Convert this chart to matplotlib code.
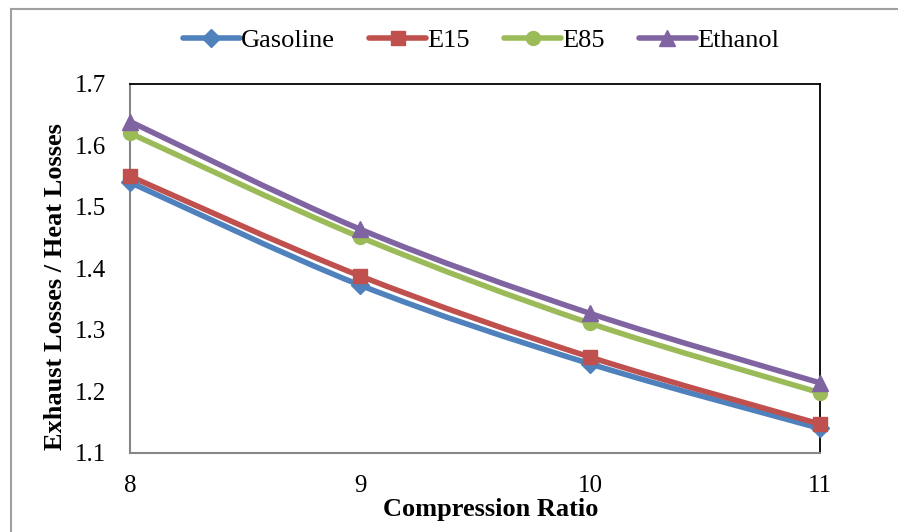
import matplotlib
matplotlib.use("Agg")
import matplotlib.pyplot as plt
from matplotlib.path import Path
from matplotlib.patches import PathPatch, Rectangle
from matplotlib.lines import Line2D

plt.rcParams["font.family"] = ["Liberation Serif", "DejaVu Serif"]

# data
compression_ratio = [8, 9, 10, 11]
gasoline = [1.540, 1.373, 1.245, 1.140]
e15 = [1.550, 1.388, 1.256, 1.147]
e85 = [1.620, 1.451, 1.311, 1.198]
ethanol = [1.639, 1.464, 1.327, 1.214]

series = [
    ("Gasoline", gasoline, "#4F81BD", "D", 9),
    ("E15", e15, "#C0504D", "s", 10),
    ("E85", e85, "#9BBB59", "o", 10),
    ("Ethanol", ethanol, "#8064A2", "^", 11),
]


def smooth_path(xs, ys):
    # Excel-like smoothed line: cubic bezier through every point
    pts = list(zip(xs, ys))
    n = len(pts)
    verts = [pts[0]]
    codes = [Path.MOVETO]
    for i in range(n - 1):
        p0 = pts[i - 1] if i > 0 else pts[i]
        p1 = pts[i]
        p2 = pts[i + 1]
        p3 = pts[i + 2] if i + 2 < n else pts[i + 1]
        c1 = (p1[0] + (p2[0] - p0[0]) / 6, p1[1] + (p2[1] - p0[1]) / 6)
        c2 = (p2[0] - (p3[0] - p1[0]) / 6, p2[1] - (p3[1] - p1[1]) / 6)
        verts += [c1, c2, p2]
        codes += [Path.CURVE4] * 3
    return Path(verts, codes)


fig = plt.figure(figsize=(8.98, 5.32), dpi=100)
ax = fig.add_axes([130 / 898, 1 - 453 / 532, 690 / 898, 369 / 532])

# outer chart-area border
fig.patches.append(Rectangle((11 / 898, -0.05), 1.0, 1 - 9 / 532 + 0.05,
                             transform=fig.transFigure, fill=False,
                             edgecolor="#A0A0A0", linewidth=1.5))

handles = []
for name, vals, color, marker, ms in series:
    ax.add_patch(PathPatch(smooth_path(compression_ratio, vals), fill=False,
                           edgecolor=color, linewidth=4, capstyle="round",
                           joinstyle="round", zorder=3))
    ax.plot(compression_ratio, vals, linestyle="none", marker=marker,
            markersize=ms, color=color, zorder=4, clip_on=False)
    handles.append(Line2D([], [], color=color, linewidth=4, marker=marker,
                          markersize=ms, solid_capstyle="round", label=name))

ax.set_xlim(8, 11)
ax.set_ylim(1.1, 1.7)
ax.set_xticks(compression_ratio)
ax.set_yticks([1.1, 1.2, 1.3, 1.4, 1.5, 1.6, 1.7])
ax.set_yticklabels(["1.1", "1.2", "1.3", "1.4", "1.5", "1.6", "1.7"])
ax.tick_params(length=0, labelsize=18)
ax.tick_params(axis="y", pad=17)
ax.tick_params(axis="x", pad=16)

ax.spines["left"].set_color("#868686")
ax.spines["bottom"].set_color("#868686")
ax.spines["left"].set_linewidth(1.5)
ax.spines["bottom"].set_linewidth(1.5)
ax.spines["top"].set_color("black")
ax.spines["right"].set_color("black")
ax.spines["top"].set_linewidth(1.3)
ax.spines["right"].set_linewidth(1.3)

ax.set_xlabel("Compression Ratio", fontsize=19, fontweight="bold", va="center")
ax.xaxis.set_label_coords(0.523, -0.152)
ax.set_ylabel("Exhaust Losses / Heat Losses", fontsize=19, fontweight="bold",
              va="center")
ax.yaxis.set_label_coords(-0.108, 0.45)

fig.legend(handles=handles, loc="center", bbox_to_anchor=(481 / 898, 1 - 40 / 532),
           ncol=4, frameon=False, fontsize=19, handlelength=2.15,
           handletextpad=0.05, columnspacing=1.3)

fig.savefig("out.png", dpi=100)
